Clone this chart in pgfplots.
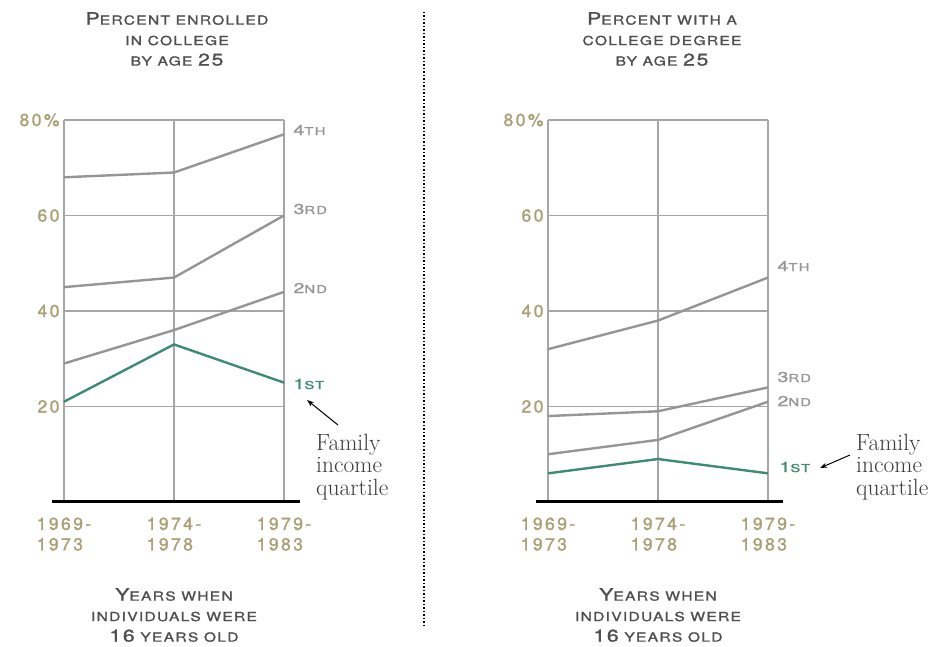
\documentclass[border=0pt]{standalone}
\usepackage{fontspec}
\usepackage{graphicx}
\usepackage{pgfplots}
\pgfplotsset{compat=1.18}
\usetikzlibrary{arrows.meta}
\setmainfont{TeX Gyre Heros}
\newfontfamily\capfont[LetterSpace=8, FakeBold=1.2]{TeX Gyre Heros}
\newfontfamily\numfont[LetterSpace=14, FakeBold=1.6]{TeX Gyre Heros}
\newfontfamily\notefont{Latin Modern Roman}

\definecolor{tan}{HTML}{A9A075}
\definecolor{linegray}{HTML}{959595}
\definecolor{gridgray}{HTML}{A6A6A6}
\definecolor{green1}{HTML}{3E8C6E}
\definecolor{titlegray}{HTML}{4F4F4F}
\definecolor{notegray}{HTML}{3C3C3C}
\definecolor{baseline}{HTML}{231F20}

% big initial for the small-caps look
\newcommand{\B}[1]{{\fontsize{17}{17}\selectfont #1}}
\newcommand{\lab}[1]{{\fontsize{14.5}{14.5}\selectfont #1}}
\newcommand{\wide}[1]{\scalebox{1.25}[1]{\begin{tabular}{@{}c@{}}#1\end{tabular}}}
\newcommand{\wl}[1]{\scalebox{1.35}[1]{#1}}

\pgfplotsset{
  panel/.style={
    scale only axis, width=220pt, height=382pt,
    xmin=0, xmax=2, ymin=0, ymax=80,
    axis line style={draw=none},
    xtick={0,1,2}, ytick={20,40,60,80},
    xticklabels={{1969-\\1973},{1974-\\1978},{1979-\\1983}},
    yticklabels={20,40,60,80\%},
    grid=major, major grid style={gridgray, line width=1.2pt},
    tick style={draw=none},
    xticklabel style={align=left, text=tan, font=\numfont\fontsize{17.5}{20.5}\selectfont, yshift=-12pt},
    yticklabel style={text=tan, font=\numfont\fontsize{17.5}{20}\selectfont, xshift=-1pt},
    /pgf/number format/assume math mode=true,
    clip=false,
  },
  gl/.style={linegray, line width=2.4pt, no marks},
  fl/.style={green1, line width=2.4pt, no marks},
}

\begin{document}
\begin{tikzpicture}[x=1pt,y=1pt]
\path[use as bounding box] (0,0) rectangle (943,646);

% left panel
\begin{axis}[panel, at={(64pt,144pt)}, anchor=south west]
  \addplot[gl] coordinates {(0,68) (1,69) (2,77)};
  \addplot[gl] coordinates {(0,45) (1,47) (2,60)};
  \addplot[gl] coordinates {(0,29) (1,36) (2,44)};
  \addplot[fl] coordinates {(0,21) (1,33) (2,25)};
\end{axis}

% right panel
\begin{axis}[panel, at={(548pt,144pt)}, anchor=south west]
  \addplot[gl] coordinates {(0,32) (1,38) (2,47)};
  \addplot[gl] coordinates {(0,18) (1,19) (2,24)};
  \addplot[gl] coordinates {(0,10) (1,13) (2,21)};
  \addplot[fl] coordinates {(0,6) (1,9) (2,6)};
\end{axis}

% thick baselines
\draw[baseline, line width=3pt] (52,144) -- (300,144);
\draw[baseline, line width=3pt] (536,144) -- (783,144);

% separator
\draw[black, line width=1.5pt, dotted] (424,634) -- (424,21);

% titles
\begin{scope}[every node/.style={inner sep=0pt, text=titlegray,
    font=\capfont\fontsize{12.5}{20.5}\selectfont}]
  \node at (177,605) {\wide{\B{P}ERCENT ENROLLED\\IN COLLEGE\\BY AGE \B{25}}};
  \node at (662,605) {\wide{\B{P}ERCENT WITH A\\COLLEGE DEGREE\\BY AGE \B{25}}};
  \node at (174,29) {\wide{\B{Y}EARS WHEN\\INDIVIDUALS WERE\\\B{16} YEARS OLD}};
  \node at (658,29) {\wide{\B{Y}EARS WHEN\\INDIVIDUALS WERE\\\B{16} YEARS OLD}};
\end{scope}

% series labels
\begin{scope}[every node/.style={anchor=west, text=linegray,
    font=\capfont\fontsize{11}{11}\selectfont}]
  \node at (290,516) {\wl{\lab{4}TH}};
  \node at (290,437) {\wl{\lab{3}RD}};
  \node at (290,358) {\wl{\lab{2}ND}};
  \node[text=green1] at (290,262) {\wl{\lab{1}ST}};
  \node at (774,380) {\wl{\lab{4}TH}};
  \node at (774,269) {\wl{\lab{3}RD}};
  \node at (774,245) {\wl{\lab{2}ND}};
  \node[text=green1] at (776,179) {\wl{\lab{1}ST}};
\end{scope}

% note
\begin{scope}[every node/.style={anchor=base west, inner sep=0pt, text=notegray,
    font=\notefont\fontsize{23.5}{23.5}\selectfont}]
  \node at (316,195) {Family};
  \node at (316,173) {income};
  \node at (316,150) {quartile};
  \node at (856,195) {Family};
  \node at (856,173) {income};
  \node at (856,150) {quartile};
\end{scope}
\draw[-{Stealth[length=7pt,width=5pt]}, line width=1pt] (338,221) -- (307,246);
\draw[-{Stealth[length=7pt,width=5pt]}, line width=1pt] (850,191) -- (820,178);
\end{tikzpicture}
\end{document}
